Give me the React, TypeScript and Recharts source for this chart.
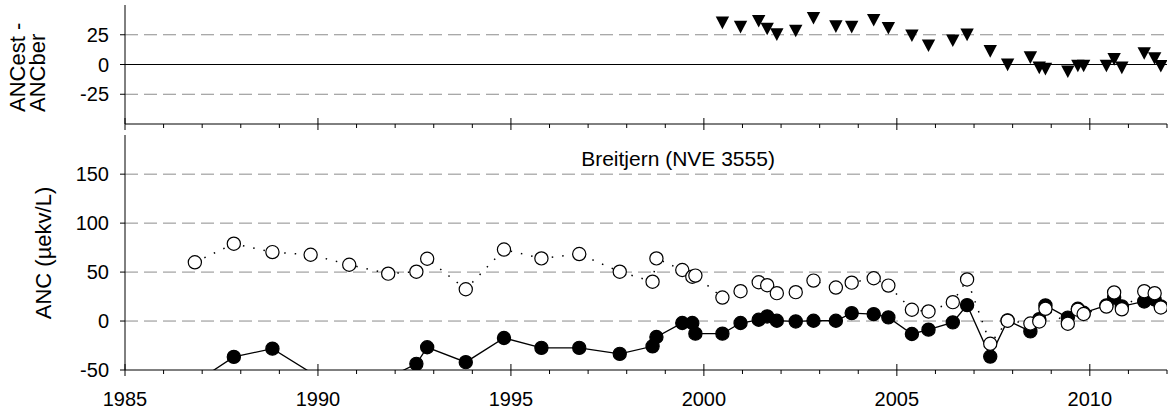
import React from 'react';
import { LineChart, Line, XAxis, YAxis, CartesianGrid, ReferenceLine } from 'recharts';

// sampling dates (decimal year) for the ANC series
const dates = [
  1986.81, 1987.82, 1988.82, 1989.81, 1990.81, 1991.82, 1992.55, 1992.83, 1993.83, 1994.82,
  1995.79, 1996.77, 1997.82, 1998.67, 1998.77, 1999.44, 1999.70, 1999.78, 2000.48, 2000.95,
  2001.42, 2001.64, 2001.89, 2002.38, 2002.84, 2003.42, 2003.83, 2004.40, 2004.78, 2005.39,
  2005.82, 2006.45, 2006.82, 2007.42, 2007.87, 2008.46, 2008.69, 2008.85, 2009.43, 2009.69,
  2009.84, 2010.43, 2010.63, 2010.83, 2011.41, 2011.68, 2011.84,
];

// open circles (dotted line)
const ancEst = [
  60, 79, 70.4, 67.7, 57.5, 48.4, 50.4, 63.6, 32.5, 73,
  64, 68.4, 50.4, 40.2, 64, 52.1, 45.3, 46.4, 24, 30.5,
  39.6, 36.6, 28.5, 29.5, 41.3, 34.2, 39.2, 43.7, 36.2, 11.5,
  9.8, 19.3, 42.5, -23.2, 0.3, -2.5, -0.4, 12.5, -2.7, 11.5,
  7.2, 14.8, 29.2, 12, 30.5, 28.5, 13.8,
];

// filled circles (solid line)
const ancBer: (number | null)[] = [
  -63, -36.6, -28.2, null, -77, -58, -43.7, -26.8, -42, -17.3,
  -27.4, -27.4, -33.5, -25.8, -16.3, -2, -2, -12.9, -12.9, -2,
  1.3, 4.7, 0.3, -0.4, 0.3, 0.3, 8.1, 7.1, 3.7, -13.2,
  -8.8, -1.4, 16.3, -36.3, 0.6, -10.6, 2, 16, 3.5, 12.5,
  8.4, 16, 24, 15, 20, 22, 15,
];

// triangles: ANCest - ANCber
const diffDates = [
  2000.48, 2000.95, 2001.42, 2001.64, 2001.89, 2002.38, 2002.84, 2003.42, 2003.83, 2004.40,
  2004.78, 2005.39, 2005.82, 2006.45, 2006.82, 2007.42, 2007.87, 2008.46, 2008.69, 2008.85,
  2009.43, 2009.69, 2009.84, 2010.43, 2010.63, 2010.83, 2011.41, 2011.68, 2011.84,
];
const diffValues = [
  35, 31.4, 36.4, 29.8, 25.1, 28.1, 38.9, 31.8, 31.4, 37.2,
  30.4, 24.2, 15.8, 20, 24.9, 11, -0.3, 5.8, -2.8, -3.9,
  -6.1, -1.25, -1.25, -1.25, 4.3, -2.8, 9.2, 5, -1.5,
];

const years = Array.from({ length: 28 }, (_, i) => 1985 + i);
const topTicks = [-25, 0, 25];
const topGrid = [-25, 25];
const bottomTicks = [-50, 0, 50, 100, 150];
const bottomGrid = [0, 50, 100, 150];

const ancRows = dates.map((d, i) => ({ date: d, est: ancEst[i], ber: ancBer[i] }));
const diffRows = diffDates.map((d, i) => ({ date: d, diff: diffValues[i] }));

const FONT = '"Liberation Sans", Arial, sans-serif';

const makeXTick = (showLabel: boolean) => (props: any) => {
  const { x, y, payload } = props;
  const major = payload.value % 5 === 0;
  return (
    <g key={`xt-${payload.value}`}>
      <line x1={x} x2={x} y1={major ? y - 6 : y} y2={major ? y + 6 : y + 4} stroke="#000" strokeWidth={1} />
      {major && showLabel && (
        <text x={x} y={y + 36} textAnchor="middle" fontSize={20} fill="#000">
          {payload.value}
        </text>
      )}
    </g>
  );
};

const triangle = (props: any) => {
  const { cx, cy, index } = props;
  if (cx == null || cy == null) return <g key={`tri-${index}`} />;
  return (
    <path
      key={`tri-${index}`}
      d={`M${cx - 6.7},${cy - 6.3} L${cx + 6.7},${cy - 6.3} L${cx},${cy + 6.3} Z`}
      fill="#000"
    />
  );
};

const circleDot = (fill: string) => (props: any) => {
  const { cx, cy, index, value } = props;
  if (cx == null || cy == null || value == null) return <g key={`c-${fill}-${index}`} />;
  return <circle key={`c-${fill}-${index}`} cx={cx} cy={cy} r={6.6} fill={fill} stroke="#000" strokeWidth={1.2} />;
};

const gridStyle = { stroke: '#8c8c8c', strokeDasharray: '13 6' };
const yTick = { fontSize: 20, fill: '#000' };

export default function App() {
  return (
    <div style={{ position: 'absolute', left: 0, top: 0, width: 1168, height: 414, background: '#fff', fontFamily: FONT }}>
      <div style={{ position: 'absolute', left: 0, top: 0 }}>
        <LineChart width={1168} height={134} data={diffRows} margin={{ top: 5, right: 1, left: 0, bottom: 0 }}>
          <CartesianGrid vertical={false} horizontalValues={topGrid} {...gridStyle} />
          <XAxis
            type="number"
            dataKey="date"
            domain={[1985, 2012]}
            ticks={years}
            interval={0}
            allowDataOverflow
            height={10}
            tickSize={0}
            tickMargin={0}
            tickLine={false}
            axisLine={{ stroke: '#000' }}
            tick={makeXTick(false)}
          />
          <YAxis
            type="number"
            domain={[-50, 50]}
            ticks={topTicks}
            interval={0}
            allowDataOverflow
            width={125}
            tickSize={5}
            tickMargin={11}
            tick={yTick}
            tickLine={{ stroke: '#000' }}
            axisLine={{ stroke: '#000' }}
          />
          <ReferenceLine y={0} stroke="#000" strokeWidth={1} />
          <Line dataKey="diff" stroke="none" dot={triangle} activeDot={false} isAnimationActive={false} />
        </LineChart>
      </div>
      <div style={{ position: 'absolute', left: 0, top: 130 }}>
        <LineChart width={1168} height={284} data={ancRows} margin={{ top: 5, right: 1, left: 0, bottom: 0 }}>
          <CartesianGrid vertical={false} horizontalValues={bottomGrid} {...gridStyle} />
          <XAxis
            type="number"
            dataKey="date"
            domain={[1985, 2012]}
            ticks={years}
            interval={0}
            allowDataOverflow
            height={44}
            tickSize={0}
            tickMargin={0}
            tickLine={false}
            axisLine={{ stroke: '#000' }}
            tick={makeXTick(true)}
          />
          <YAxis
            type="number"
            domain={[-50, 190]}
            ticks={bottomTicks}
            interval={0}
            allowDataOverflow
            width={125}
            tickSize={5}
            tickMargin={11}
            tick={yTick}
            tickLine={{ stroke: '#000' }}
            axisLine={{ stroke: '#000' }}
          />
          <Line
            dataKey="ber"
            stroke="#000"
            strokeWidth={1.3}
            connectNulls
            dot={circleDot('#000')}
            activeDot={false}
            isAnimationActive={false}
          />
          <Line
            dataKey="est"
            stroke="#000"
            strokeWidth={1.5}
            strokeDasharray="1.5 9"
            dot={circleDot('#fff')}
            activeDot={false}
            isAnimationActive={false}
          />
        </LineChart>
      </div>
      <svg width={1168} height={414} style={{ position: 'absolute', left: 0, top: 0, pointerEvents: 'none' }}>
        <text transform="translate(25,112) rotate(-90)" fontSize={22} fill="#000" textAnchor="start">
          ANCest -
        </text>
        <text transform="translate(45,112) rotate(-90)" fontSize={22} fill="#000" textAnchor="start">
          ANCber
        </text>
        <text transform="translate(51,253) rotate(-90)" fontSize={22} fill="#000" textAnchor="middle">
          ANC (µekv/L)
        </text>
        <text x={678} y={166} fontSize={21} fill="#000" textAnchor="middle">
          Breitjern (NVE 3555)
        </text>
      </svg>
    </div>
  );
}
